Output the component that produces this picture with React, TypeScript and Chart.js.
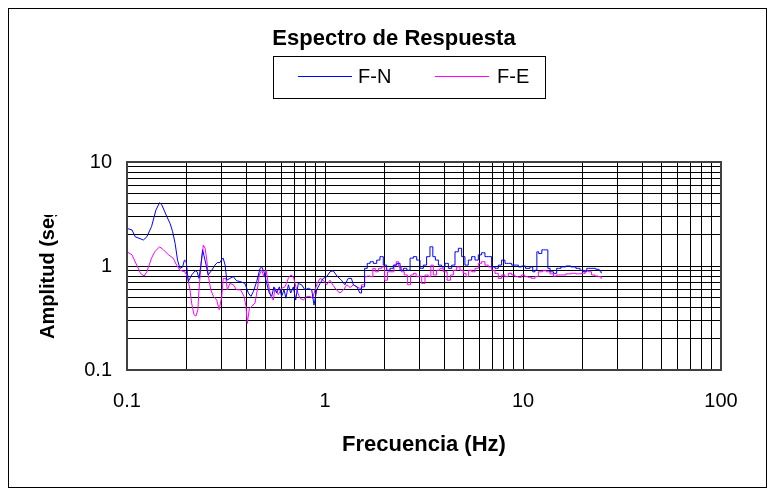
import React, { useEffect, useRef } from 'react';
import { Chart, registerables } from 'chart.js';

Chart.register(...registerables);

const chartTitle = 'Espectro de Respuesta';
const xTitle = 'Frecuencia (Hz)';
const yTitle = 'Amplitud (seg)';
const seriesNames = ['F-N', 'F-E'];
const seriesColors = ['#0000ff', '#ff00ff'];
const stepStartFreq = 1.5;

const xTickValues = [0.1, 0.2, 0.3, 0.4, 0.5, 0.6, 0.7, 0.8, 0.9, 1, 2, 3, 4, 5, 6, 7, 8, 9, 10, 20, 30, 40, 50, 60, 70, 80, 90, 100];
const yTickValues = [0.1, 0.2, 0.3, 0.4, 0.5, 0.6, 0.7, 0.8, 0.9, 1, 2, 3, 4, 5, 6, 7, 8, 9, 10];
const xLabelValues = [0.1, 1, 10, 100];
const yLabelValues = [0.1, 1, 10];

const fnFreq = [
  0.100, 0.106, 0.110, 0.121, 0.126, 0.133, 0.140, 0.146, 0.150, 0.159, 0.165, 0.170, 0.175, 0.180, 0.185, 0.191, 0.195, 0.199, 0.202,
  0.204, 0.212, 0.221, 0.226, 0.231, 0.236, 0.241, 0.245, 0.251, 0.257, 0.268, 0.278, 0.286, 0.295, 0.301, 0.306, 0.313, 0.319, 0.331,
  0.344, 0.358, 0.372, 0.394, 0.410, 0.423, 0.435, 0.452, 0.470, 0.479, 0.492, 0.508, 0.523, 0.538, 0.552, 0.570, 0.588, 0.604, 0.621,
  0.635, 0.653, 0.671, 0.692, 0.711, 0.733, 0.762, 0.792, 0.824, 0.857, 0.880, 0.908, 0.944, 0.980, 1.02, 1.06, 1.10, 1.15, 1.21,
  1.26, 1.31, 1.36, 1.39, 1.45, 1.50, 1.56, 1.61, 1.66, 1.72, 1.79, 1.86, 1.93, 2.01, 2.09, 2.17, 2.26, 2.35, 2.44, 2.54, 2.64, 2.74,
  2.85, 2.96, 3.08, 3.20, 3.32, 3.46, 3.55, 3.67, 3.81, 3.96, 4.12, 4.28, 4.45, 4.62, 4.81, 4.99, 5.19, 5.40, 5.61, 5.84, 6.06, 6.30,
  6.55, 6.81, 7.08, 7.36, 7.65, 7.95, 8.27, 8.60, 8.94, 9.29, 9.66, 10.0, 10.6, 11.1, 11.3, 11.7, 11.8, 12.2, 12.7, 13.3, 13.4, 14.0,
  14.5, 15.1, 16.0, 16.9, 18.0, 19.0, 19.8, 20.6, 21.4, 22.6, 24.0, 24.5, 25.0,
];
const fnAmp = [
  2.30, 2.22, 1.91, 1.78, 1.91, 2.39, 3.45, 4.06, 3.86, 2.98, 2.57, 2.14, 1.65, 1.14, 0.95, 0.98, 1.14, 1.10, 0.85,
  0.71, 0.82, 0.90, 0.88, 0.76, 1.02, 1.43, 1.25, 1.02, 0.82, 0.91, 1.02, 1.08, 1.08, 1.16, 1.19, 1.02, 0.73, 0.76,
  0.79, 0.72, 0.71, 0.68, 0.55, 0.51, 0.57, 0.71, 0.95, 0.98, 0.88, 0.68, 0.55, 0.51, 0.63, 0.55, 0.63, 0.51, 0.59,
  0.49, 0.66, 0.55, 0.63, 0.47, 0.68, 0.66, 0.59, 0.61, 0.59, 0.42, 0.59, 0.68, 0.76, 0.79, 0.88, 0.90, 0.80, 0.73,
  0.66, 0.76, 0.76, 0.66, 0.63, 0.55, 0.63, 0.95, 1.06, 1.10, 1.06, 1.14, 1.23, 1.02, 0.91, 0.95, 1.02, 1.06, 0.91, 0.95, 0.91, 1.19,
  1.23, 1.14, 0.95, 1.02, 1.23, 1.53, 1.23, 1.14, 1.02, 0.98, 1.06, 0.95, 1.02, 1.37, 1.48, 1.23, 1.02, 1.14, 1.23, 1.14, 1.28, 1.34,
  1.23, 1.23, 0.98, 0.95, 1.02, 1.14, 1.06, 1.06, 1.02, 1.02, 0.98, 1.00, 0.95, 0.98, 0.88, 0.91, 1.37, 1.32, 1.43, 1.43, 0.95, 0.88,
  0.85, 0.95, 0.98, 1.00, 0.98, 0.95, 0.91, 0.88, 0.95, 0.95, 0.93, 0.90, 0.86,
];

const feFreq = [
  0.100, 0.106, 0.112, 0.117, 0.122, 0.126, 0.133, 0.138, 0.146, 0.153, 0.162, 0.171, 0.178, 0.185, 0.196, 0.202, 0.204, 0.208, 0.212,
  0.218, 0.223, 0.228, 0.231, 0.236, 0.243, 0.248, 0.253, 0.257, 0.265, 0.273, 0.284, 0.292, 0.301, 0.306, 0.316, 0.321, 0.331, 0.344,
  0.358, 0.375, 0.390, 0.399, 0.405, 0.415, 0.426, 0.443, 0.455, 0.466, 0.479, 0.492, 0.504, 0.517, 0.532, 0.548, 0.559, 0.581, 0.604,
  0.628, 0.653, 0.671, 0.692, 0.719, 0.748, 0.777, 0.809, 0.840, 0.867, 0.890, 0.914, 0.944, 0.980, 1.02, 1.06, 1.10, 1.15, 1.19,
  1.24, 1.29, 1.34, 1.39, 1.45, 1.50, 1.56, 1.61, 1.66, 1.72, 1.77, 1.82, 1.90, 1.97, 2.03, 2.11, 2.20, 2.26, 2.32, 2.39, 2.47, 2.56,
  2.67, 2.74, 2.85, 2.92, 3.02, 3.14, 3.26, 3.39, 3.46, 3.59, 3.73, 3.88, 4.04, 4.24, 4.36, 4.54, 4.71, 4.90, 5.09, 5.23, 5.40, 5.61,
  5.84, 6.06, 6.30, 6.55, 6.81, 7.08, 7.36, 7.65, 7.95, 8.27, 8.60, 8.94, 9.29, 9.66, 10.0, 10.4, 10.8, 11.3, 11.7, 12.2, 12.9, 13.4,
  14.0, 14.5, 15.1, 16.0, 16.9, 18.0, 19.0, 20.2, 21.0, 21.8, 22.6, 23.6, 24.5, 25.0,
];
const feAmp = [
  1.37, 1.28, 1.02, 0.85, 0.80, 0.88, 1.19, 1.37, 1.53, 1.43, 1.28, 1.19, 1.02, 0.91, 0.88, 0.79, 0.72, 0.59, 0.44,
  0.34, 0.33, 0.38, 0.59, 0.98, 1.59, 1.48, 1.14, 0.82, 0.59, 0.51, 0.47, 0.38, 0.51, 0.76, 0.76, 0.59, 0.68, 0.66,
  0.59, 0.59, 0.51, 0.41, 0.28, 0.39, 0.41, 0.44, 0.59, 0.82, 0.91, 0.79, 0.91, 0.68, 0.51, 0.47, 0.61, 0.53, 0.61,
  0.63, 0.76, 0.82, 0.79, 0.59, 0.49, 0.47, 0.51, 0.51, 0.49, 0.59, 0.68, 0.76, 0.73, 0.66, 0.73, 0.65, 0.58, 0.55,
  0.59, 0.66, 0.62, 0.66, 0.63, 0.61, 0.66, 0.79, 0.80, 0.79, 0.95, 0.88, 0.95, 0.98, 0.73, 0.88, 0.88, 1.02, 1.10, 0.98, 0.88, 0.82,
  0.66, 0.82, 0.85, 0.79, 0.80, 0.68, 0.82, 0.79, 1.02, 0.82, 0.91, 0.95, 0.88, 0.73, 0.82, 0.91, 0.98, 0.91, 0.85, 0.79, 0.91, 0.88,
  0.95, 1.06, 1.10, 1.02, 0.98, 0.91, 0.85, 0.76, 0.82, 0.79, 0.85, 0.82, 0.79, 0.78, 0.82, 0.79, 0.78, 0.76, 0.79, 0.88, 0.90, 0.88,
  0.84, 0.80, 0.82, 0.82, 0.84, 0.85, 0.84, 0.85, 0.90, 0.88, 0.82, 0.80, 0.79, 0.76,
];

const FONT = '"Liberation Sans", Arial, Helvetica, sans-serif';

function splitSeries(freq: number[], amp: number[], color: string, label: string) {
  const pts = freq.map((f, i) => ({ x: f, y: amp[i] }));
  let k = freq.findIndex((f) => f >= stepStartFreq);
  if (k < 0) k = freq.length;
  const base = { borderColor: color, backgroundColor: color, borderWidth: 1, pointRadius: 0, tension: 0 };
  return [
    { ...base, label, data: pts.slice(0, k + 1) },
    { ...base, label: label + ' ', data: pts.slice(k), stepped: 'middle' as const },
  ];
}

const decorPlugin = {
  id: 'decor',
  afterDraw(chart: any) {
    const ctx = chart.ctx as CanvasRenderingContext2D;
    const a = chart.chartArea;
    ctx.save();
    ctx.strokeStyle = '#404040';
    ctx.lineWidth = 2;
    ctx.strokeRect(a.left, a.top, a.right - a.left, a.bottom - a.top);
    ctx.strokeStyle = '#000';
    ctx.lineWidth = 1;
    ctx.strokeRect(8.5, 8.5, 758, 479);
    ctx.fillStyle = '#000';
    ctx.font = `bold 22px ${FONT}`;
    ctx.textAlign = 'center';
    ctx.textBaseline = 'middle';
    ctx.fillText(chartTitle, 394, 39);
    ctx.strokeRect(273.5, 56.5, 272, 42);
    ctx.font = `20px ${FONT}`;
    ctx.textAlign = 'left';
    const entries = [
      { x0: 298, x1: 352, tx: 358 },
      { x0: 435, x1: 489, tx: 497 },
    ];
    entries.forEach((e, i) => {
      ctx.strokeStyle = seriesColors[i];
      ctx.lineWidth = 1;
      ctx.beginPath();
      ctx.moveTo(e.x0, 76.5);
      ctx.lineTo(e.x1, 76.5);
      ctx.stroke();
      ctx.fillStyle = '#000';
      ctx.fillText(seriesNames[i], e.tx, 77);
    });
    ctx.font = `bold 22px ${FONT}`;
    ctx.textAlign = 'center';
    ctx.fillText(xTitle, (a.left + a.right) / 2, 445);
    ctx.save();
    ctx.beginPath();
    ctx.rect(0, 215, 120, 270);
    ctx.clip();
    ctx.translate(48, 339);
    ctx.rotate(-Math.PI / 2);
    ctx.font = `bold 20px ${FONT}`;
    ctx.textAlign = 'left';
    ctx.textBaseline = 'middle';
    ctx.fillText(yTitle, 0, 0);
    ctx.restore();
    ctx.restore();
  },
};

export default function App() {
  const canvasRef = useRef<HTMLCanvasElement | null>(null);

  useEffect(() => {
    const canvas = canvasRef.current;
    if (!canvas) return;
    const chart = new Chart(canvas, {
      type: 'line',
      data: {
        datasets: [
          ...splitSeries(fnFreq, fnAmp, seriesColors[0], seriesNames[0]),
          ...splitSeries(feFreq, feAmp, seriesColors[1], seriesNames[1]),
        ],
      },
      options: {
        animation: false,
        responsive: false,
        devicePixelRatio: 1,
        layout: { padding: { left: 0, top: 162, right: 47, bottom: 0 } },
        plugins: {
          legend: { display: false },
          title: { display: false },
          tooltip: { enabled: false },
        },
        scales: {
          x: {
            type: 'logarithmic',
            min: 0.1,
            max: 100,
            afterBuildTicks: (scale: any) => {
              scale.ticks = xTickValues.map((v) => ({ value: v }));
            },
            afterFit: (scale: any) => {
              scale.height = 119;
            },
            grid: { color: '#000', lineWidth: 1, drawTicks: false },
            border: { display: false },
            ticks: {
              autoSkip: false,
              maxRotation: 0,
              minRotation: 0,
              padding: 19,
              color: '#000',
              font: { family: FONT, size: 20 },
              callback: (value: any) => (xLabelValues.includes(Number(value)) ? String(value) : ''),
            },
          },
          y: {
            type: 'logarithmic',
            min: 0.1,
            max: 10,
            afterBuildTicks: (scale: any) => {
              scale.ticks = yTickValues.map((v) => ({ value: v }));
            },
            afterFit: (scale: any) => {
              scale.width = 127;
            },
            grid: { color: '#000', lineWidth: 1, drawTicks: false },
            border: { display: false },
            ticks: {
              autoSkip: false,
              padding: 15,
              color: '#000',
              font: { family: FONT, size: 20 },
              callback: (value: any) => (yLabelValues.includes(Number(value)) ? String(value) : ''),
            },
          },
        },
      },
      plugins: [decorPlugin],
    });
    return () => chart.destroy();
  }, []);

  return (
    <div style={{ position: 'fixed', left: 0, top: 0, width: 768, height: 489, background: '#fff' }}>
      <canvas ref={canvasRef} width={768} height={489} style={{ display: 'block' }} />
    </div>
  );
}
